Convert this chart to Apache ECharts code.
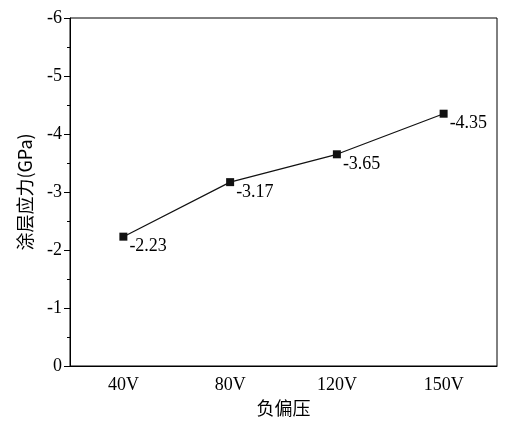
<!DOCTYPE html>
<html><head><meta charset="utf-8">
<script src="https://cdn.jsdelivr.net/npm/echarts@6/dist/echarts.min.js"></script>
<style>html,body{margin:0;padding:0;background:#fff}#c{width:518px;height:424px}</style>
</head><body><div id="c"></div>
<script>
const categories = ['40V','80V','120V','150V'];
const stress = [-2.23,-3.17,-3.65,-4.35];
const chart = echarts.init(document.getElementById('c'));
const font = 'Liberation Serif, Times New Roman, serif';
chart.setOption({
  animation:false,
  grid:{left:70,right:21,top:18,bottom:58,show:true,borderColor:'#000',borderWidth:1},
  xAxis:{type:'category',data:categories,boundaryGap:true,
    name:'负偏压',nameLocation:'middle',nameGap:29,
    nameTextStyle:{fontFamily:'Noto Sans CJK SC',fontSize:18,color:'#000'},
    axisLine:{lineStyle:{color:'#000'}},axisTick:{alignWithLabel:true,length:5,lineStyle:{color:'#000'}},
    axisLabel:{fontFamily:font,fontSize:18,color:'#000',margin:10}},
  yAxis:{type:'value',min:-6,max:0,interval:1,inverse:true,
    name:'涂层应力(GPa)',nameLocation:'middle',nameGap:36,
    nameTextStyle:{fontFamily:'Noto Sans CJK SC',fontSize:18,color:'#000'},
    axisLine:{show:true,lineStyle:{color:'#000'}},
    axisTick:{show:true,length:6,lineStyle:{color:'#000'}},
    minorTick:{show:true,splitNumber:2,length:3,lineStyle:{color:'#000'}},
    splitLine:{show:false},
    axisLabel:{fontFamily:font,fontSize:18,color:'#000',margin:8}},
  series:[{type:'line',data:stress,symbol:'rect',symbolSize:8,
    itemStyle:{color:'#111'},lineStyle:{color:'#111',width:1.2},
    label:{show:true,position:'right',offset:[-3,10],fontFamily:font,fontSize:18,color:'#000'}}]
});
</script></body></html>
